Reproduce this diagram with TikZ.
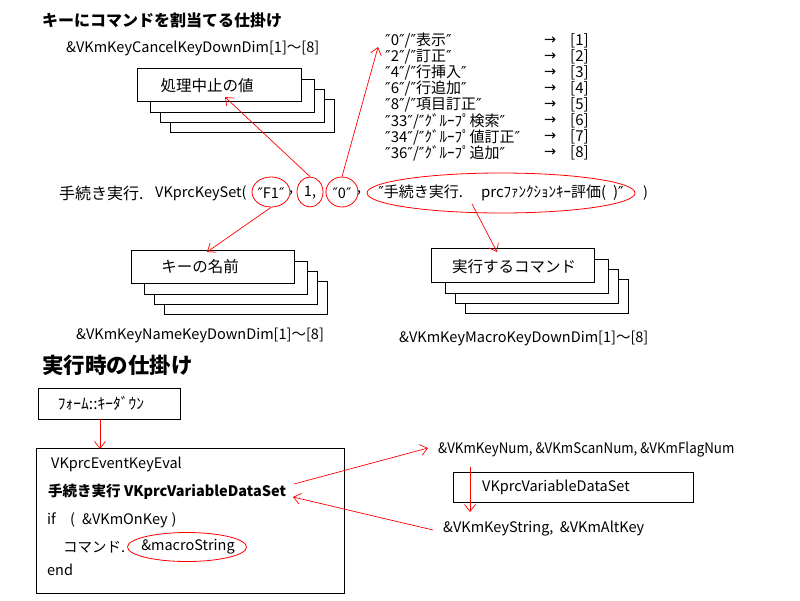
\documentclass[tikz,border=0pt]{standalone}
\usepackage{fontspec}
\setmainfont{Noto Sans CJK JP}
\newfontfamily\dv{DejaVu Sans}
\usetikzlibrary{arrows.meta,shapes.geometric}
\newcommand\qq[1]{{\dv ″}#1}
\begin{document}
\begin{tikzpicture}[x=1pt,y=-1pt,
  t/.style={inner sep=0pt, anchor=west, font=\fontsize{14.5}{17}\selectfont},
  tc/.style={inner sep=0pt, font=\fontsize{14.5}{17}\selectfont},
  bt/.style={inner sep=0pt, font=\fontsize{15.5}{17}\selectfont},
  lt/.style={inner sep=0pt, anchor=west, font=\fontsize{15}{16}\selectfont},
  ttl/.style={inner sep=0pt, anchor=west, font=\bfseries},
  box/.style={draw, line width=0.9pt, fill=white},
  bnode/.style={box, anchor=north west, inner sep=0pt},
  ra/.style={draw=red, line width=0.7pt, -{Straight Barb[length=7pt,width=11pt]}},
  rl/.style={ellipse, draw=red, line width=0.8pt, inner sep=0pt},
]
\useasboundingbox[fill=white] (0,0) rectangle (800,600);

% titles
\node[ttl, font=\fontsize{16}{18}\selectfont\bfseries] (title1) at (42,20) {キーにコマンドを割当てる仕掛け};
\node[ttl, font=\fontsize{21.5}{23}\selectfont\bfseries] (title2) at (42,365) {実行時の仕掛け};

% stacked box 1
\foreach \dx/\dy in {33/31,23/21,13/11} \draw[box] (137+\dx,68+\dy) rectangle (301+\dx,101+\dy);
\node[bnode, minimum width=164pt, minimum height=33pt] (b1) at (137,68) {};
\node[bt] (b1t) at (207,86) {処理中止の値};
\node[t] (lab1) at (66,48) {\&VKmKeyCancelKeyDownDim[1]～[8]};

% stacked box 2
\foreach \dx/\dy in {33/31,23/21,13/11} \draw[box] (131+\dx,250+\dy) rectangle (294+\dx,283+\dy);
\node[bnode, minimum width=163pt, minimum height=33pt] (b2) at (131,250) {};
\node[bt] (b2t) at (200,267) {キーの名前};
\node[t] (lab2) at (76,335) {\&VKmKeyNameKeyDownDim[1]～[8]};

% stacked box 3
\foreach \dx/\dy in {34/31,24/21,14/11} \draw[box] (431+\dx,248+\dy) rectangle (594+\dx,282+\dy);
\node[bnode, minimum width=163pt, minimum height=34pt] (b3) at (431,248) {};
\node[bt] (b3t) at (514,267) {実行するコマンド};
\node[t] (lab3) at (399,338) {\&VKmKeyMacroKeyDownDim[1]～[8]};

% list
\node[lt] (r0) at (385,41) {\qq{0}\qq{/}\qq{表示}\qq{}};
\node[lt] (r1) at (385,57) {\qq{2}\qq{/}\qq{訂正}\qq{}};
\node[lt] (r2) at (385,73) {\qq{4}\qq{/}\qq{行挿入}\qq{}};
\node[lt] (r3) at (385,89) {\qq{6}\qq{/}\qq{行追加}\qq{}};
\node[lt] (r4) at (385,105) {\qq{8}\qq{/}\qq{項目訂正}\qq{}};
\node[lt] (r5) at (385,121) {\qq{33}\qq{/}\qq{ｸﾞﾙｰﾌﾟ検索}\qq{}};
\node[lt] (r6) at (385,137) {\qq{34}\qq{/}\qq{ｸﾞﾙｰﾌﾟ値訂正}\qq{}};
\node[lt] (r7) at (385,153) {\qq{36}\qq{/}\qq{ｸﾞﾙｰﾌﾟ追加}\qq{}};
\foreach \i/\n in {0/1,1/2,2/3,3/4,4/5,5/6,6/7,7/8} {
  \node[t] (k\i) at (544,41+16*\i) {\dv →};
  \node[lt] (n\i) at (570,41+16*\i) {[\n]};
}

% main line
\node[lt, font=\fontsize{16}{18}\selectfont] (m1) at (59,193) {手続き実行.};
\node[t] (m2) at (155,193) {VKprcKeySet(};
\node[rl, minimum width=38pt, minimum height=30pt] (e1) at (271,192) {};
\node[tc] (e1t) at (271,193) {\qq{F1}\qq{}};
\node[t] (c1) at (289,193) {,};
\node[rl, minimum width=26pt, minimum height=30pt] (e2) at (310,192) {};
\node[tc] (e2t) at (310,193) {1,};
\node[rl, minimum width=32pt, minimum height=30pt] (e3) at (342,192) {};
\node[tc] (e3t) at (342,193) {\qq{0}\qq{}};
\node[t] (c3) at (357,193) {,};
\node[rl, minimum width=268pt, minimum height=40pt] (e4) at (501,193) {};
\node[tc, font=\fontsize{15}{17}\selectfont] (e4t) at (501,193) {\qq{手続き実行.\hspace{18pt}prcﾌｧﾝｸｼｮﾝｷｰ評価(\ \ )}\qq{}};
\node[t] (m3) at (643,193) {)};

% top arrows
\coordinate (t1) at (225,97);
\coordinate (t2) at (378,47);
\coordinate (t3) at (207,252);
\coordinate (s4) at (472,204);
\coordinate (t4) at (497,252);
\draw[ra] (e2.north) -- (t1);
\draw[ra] (e3.north) -- (t2);
\draw[ra] (e1.south) -- (t3);
\draw[ra] (s4) -- (t4);

% bottom
\node[bnode, minimum width=142pt, minimum height=31pt] (fk) at (38,388) {};
\node[tc, font=\fontsize{15.5}{17}\selectfont] (fkt) at (101,403) {ﾌｫｰﾑ::ｷｰﾀﾞｳﾝ};
\node[bnode, minimum width=308pt, minimum height=145pt] (bb) at (36,448) {};
\coordinate (f1) at (100,419);
\coordinate (f2) at (100,449);
\draw[ra] (f1) -- (f2);

\node[t] (l1) at (51,464) {VKprcEventKeyEval};
\node[t, font=\fontsize{14.5}{17}\selectfont\bfseries] (l2) at (48,492) {手続き実行 VKprcVariableDataSet};
\node[t] (l3) at (47,520) {\makebox[23pt][l]{if}\makebox[12pt][l]{(}\&VKmOnKey\hspace{4pt})};
\node[t] (l4) at (63,547) {コマンド.};
\node[rl, minimum width=119pt, minimum height=29pt] (e5) at (187,547) {};
\node[tc] (l4b) at (188,547) {\&macroString};
\node[t] (l5) at (47,570) {end};

\node[t] (v1) at (438,450) {\scalebox{0.92}[1]{\&VKmKeyNum,\ \&VKmScanNum,\ \&VKmFlagNum}};
\node[bnode, minimum width=240pt, minimum height=30pt] (vb) at (453,472) {};
\node[t] (vbt) at (482,487) {VKprcVariableDataSet};
\node[t] (v2) at (443,529) {\&VKmKeyString,\ \ \&VKmAltKey};

\coordinate (p1) at (294,484);
\coordinate (p2) at (428,448);
\coordinate (p3) at (470,467);
\coordinate (p4) at (470,512);
\coordinate (p5) at (433,530);
\coordinate (p6) at (293,497);
\draw[ra] (p1) -- (p2);
\draw[ra] (p3) -- (p4);
\draw[ra] (p5) -- (p6);
\end{tikzpicture}
\end{document}
